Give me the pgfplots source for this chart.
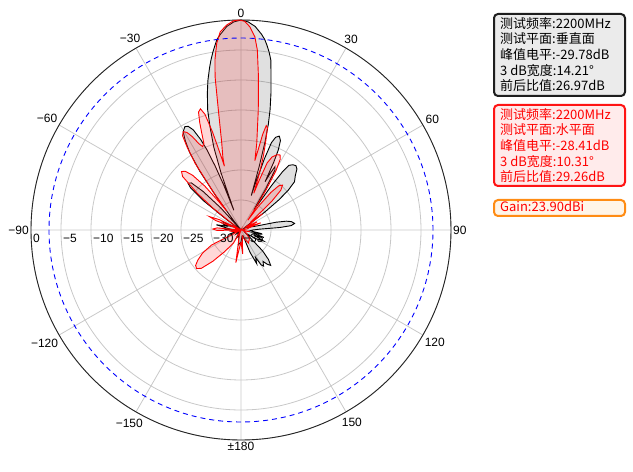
\documentclass[border=0pt]{standalone}
\usepackage{fontspec}
\setmainfont{Liberation Sans}
\newfontfamily\cjk{Noto Sans CJK SC}
\usepackage{pgfplots}
\usepackage{pgfplotstable}
\usepgfplotslibrary{polar}
\pgfplotsset{compat=1.18}
\definecolor{gridgray}{RGB}{200,200,200}
\definecolor{redfill}{RGB}{255,55,55}
\definecolor{box1fill}{RGB}{235,235,235}
\definecolor{box1draw}{RGB}{30,30,30}
\definecolor{box2fill}{RGB}{255,235,235}
\definecolor{box2draw}{RGB}{255,20,20}
\definecolor{box3fill}{RGB}{255,245,232}
\definecolor{box3draw}{RGB}{255,140,20}

% vertical plane (black): angle clockwise from top, level in dB
\pgfplotstableread{
a db
-180 -33
-170 -32.5
-160 -34
-150 -33.5
-140 -34.5
-130 -34
-120 -34.5
-110 -33
-100 -34.5
-95 -34
-88 -32.5
-84 -33
-78 -30.8
-75 -32.5
-72 -32
-69 -33.5
-66 -31.5
-62 -34
-58 -35
-54 -32
-52 -27
-50 -24
-48.5 -23.2
-46.5 -23.6
-44.5 -26
-42.5 -30
-40 -35
-38 -33
-36.5 -28
-35 -23
-33.5 -19.5
-32 -17.5
-30.5 -16
-28.5 -15.4
-27 -15.6
-25.5 -16.5
-24 -18.5
-23 -20.5
-22 -23.5
-21 -27
-20 -31.5
-19.3 -25
-18.2 -20.5
-16.7 -17
-15.5 -14.2
-13.8 -11.5
-12.5 -9.5
-11 -7.5
-10 -6.2
-9 -5
-8 -3.9
-7.2 -3
-6 -2.2
-4 -1
-2 -0.3
0 0
2 -0.3
4 -1
6 -2.2
7.1 -3
8 -3.9
9 -5
10 -6.3
11 -8.8
12.3 -11.5
13.6 -14.4
14.5 -16.8
15.3 -20
16 -24
16.6 -29
17.2 -27
18.2 -22.5
19.2 -19.6
20.5 -18.5
22.2 -18.1
23.8 -18.7
25 -20.3
25.8 -22.5
26.5 -26
27.2 -24.5
28.2 -23
29.5 -23.5
31 -27
32.5 -31
33.5 -30
34.5 -26
35.5 -23
36.5 -21.6
38.5 -21.1
40.5 -20.9
42.5 -21.2
45 -22.2
48 -23
50 -24.8
51.5 -27
53 -30
55 -34
60 -34.5
65 -34
70 -33.5
74 -33
76 -32
77.5 -29
79 -27.3
80.5 -26.5
83 -26.0
85 -26.6
86.3 -28.5
87.5 -32
90 -33
95 -33.5
100 -31.5
104 -33
108 -31
112 -32.5
116 -30.8
120 -32
125 -34
130 -33
134 -30
137 -28.3
140 -27.3
142.5 -27.8
145 -28.6
148 -27.9
150 -28.3
152 -29.8
155 -28.8
158 -31
161 -34
170 -34
180 -33
}\blackdata

% horizontal plane (red)
\pgfplotstableread{
a db
-180 -33
-175 -32
-171 -29.5
-168 -33
-162 -34
-155 -35
-150 -32.5
-143 -30.5
-138 -28
-134 -25.8
-131 -25.2
-128 -25.4
-125 -26.2
-121 -27.5
-117 -29.5
-115 -35
-108 -34
-100 -33.5
-94 -35
-91 -31
-88 -30.3
-85 -31
-82 -35
-76 -34
-71 -35
-69.5 -30.5
-67 -29.3
-64.5 -31
-62 -35
-57 -34
-54 -33
-52 -29
-50 -25.5
-47.5 -21.8
-45.5 -21.1
-43.5 -21.5
-41.5 -22.8
-39.5 -25.5
-38 -29
-37 -31
-36 -27
-34.5 -21.5
-33 -18.5
-31.8 -16.5
-30.4 -16
-29 -16.4
-27.5 -17.5
-26 -19
-24.7 -19.7
-23.2 -19.3
-22 -17.5
-21 -15.8
-19.8 -14.1
-18.5 -13.7
-17.3 -14.8
-16.2 -18
-15.2 -22
-14.6 -24
-14.0 -22.5
-12.5 -20.2
-10.7 -14.7
-9.6 -9.1
-8.7 -6.3
-7.4 -3.6
-6 -1.8
-4 -0.75
-2 -0.1
-0.5 0
1 -0.2
2.5 -1.1
4.1 -2.7
5.2 -4.9
6.5 -9.3
8.2 -14.8
10.3 -20.3
11.3 -23.2
12 -21.5
12.8 -18.6
13.6 -17.1
14.5 -17.4
15.5 -19.5
16.8 -22
18 -25
19.2 -28.5
20.2 -26
21.3 -23
23 -21.8
25.5 -21.1
27.5 -20.9
29 -21.5
30.5 -23.5
32 -27
33.5 -31
35 -33
36.5 -30
38.5 -27
40.5 -25.3
42.8 -24.8
45 -25.6
47 -28
49 -32
51 -33
53 -30.5
55.5 -33
58 -34
63 -32
67 -33.5
70 -31.5
74 -33.5
80 -34
90 -35
100 -33.5
110 -34.5
120 -34
135 -33
150 -32.5
160 -33.5
168 -34
176 -31
180 -33
}\reddata

\begin{document}
\begin{tikzpicture}[x=1pt,y=1pt]
\useasboundingbox (0,0) rectangle (633,472);
\begin{polaraxis}[
  at={(241pt,242pt)}, anchor=center,
  width=420pt, height=420pt, scale only axis,
  xmin=0, xmax=360, ymin=0, ymax=35,
  xtick={0,30,...,330},
  xticklabels={90,60,30,0,−30,−60,−90,−120,−150,±180,150,120},
  ytick={0,5,...,35}, yticklabels={},
  grid=major,
  major grid style={gridgray, line width=0.8pt},
  axis line style={black!85, line width=0.9pt},
  separate axis lines,
  y axis line style={draw=none},
  major tick length=0pt,
  xticklabel style={font=\fontsize{12}{12}\selectfont, inner sep=2pt},
  clip=false,
]
\addplot[no markers, draw=black, line width=0.9pt, fill=black, fill opacity=0.12]
  table[x expr=90-\thisrow{a}, y expr=\thisrow{db}+35] {\blackdata};
\addplot[no markers, draw=red, line width=0.9pt, fill=redfill, fill opacity=0.2]
  table[x expr=90-\thisrow{a}, y expr=\thisrow{db}+35] {\reddata};
\draw[blue, line width=0.9pt, dash pattern=on 5pt off 4pt] (axis cs:0,0) circle[radius=192pt];
\begin{scope}[every node/.style={anchor=north west, inner sep=0pt, font=\fontsize{12}{12}\selectfont, xshift=2pt, yshift=-4pt}]
\node at (axis cs:180,35) {0};
\node at (axis cs:180,30) {−5};
\node at (axis cs:180,25) {−10};
\node at (axis cs:180,20) {−15};
\node at (axis cs:180,15) {−20};
\node at (axis cs:180,10) {−25};
\node at (axis cs:180,5) {−30};
\node at (axis cs:180,0) {−35};
\end{scope}
\end{polaraxis}
% info boxes
\draw[rounded corners=4pt, line width=2pt, draw=box1draw, fill=box1fill] (494,376) rectangle (625,458);
\node[anchor=north west, inner sep=0pt, align=left, font=\cjk\fontsize{13}{15.6}\selectfont] at (500,455)
  {测试频率:2200MHz\\测试平面:垂直面\\峰值电平:-29.78dB\\3 dB宽度:14.21°\\前后比值:26.97dB};
\draw[rounded corners=4pt, line width=2pt, draw=box2draw, fill=box2fill] (494,286) rectangle (625,367);
\node[anchor=north west, inner sep=0pt, align=left, text=red, font=\cjk\fontsize{13}{15.6}\selectfont] at (500,364)
  {测试频率:2200MHz\\测试平面:水平面\\峰值电平:-28.41dB\\3 dB宽度:10.31°\\前后比值:29.26dB};
\draw[rounded corners=4pt, line width=2pt, draw=box3draw, fill=box3fill] (494,256) rectangle (625,272);
\node[anchor=north west, inner sep=0pt, text=red, font=\cjk\fontsize{13}{15.6}\selectfont] at (500,271.5)
  {Gain:23.90dBi};
\end{tikzpicture}
\end{document}
